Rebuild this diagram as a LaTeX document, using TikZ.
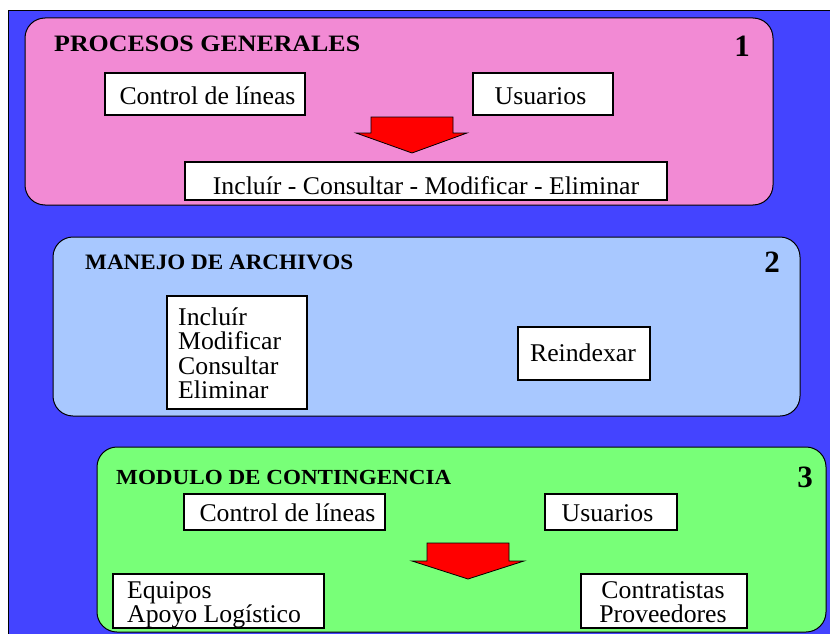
\documentclass[tikz,border=0pt]{standalone}
\usepackage{fontspec}
\usepackage{graphicx}
\setmainfont{Liberation Serif}[FakeStretch=1.01]
\newfontfamily\titlefont{Liberation Serif}
\definecolor{bgblue}{RGB}{68,68,255}
\definecolor{pnk}{RGB}{242,138,212}
\definecolor{lblue}{RGB}{168,200,255}
\definecolor{lgreen}{RGB}{120,255,120}
\newcommand\ttltext[3]{\resizebox{#1}{\height}{\titlefont\bfseries\fontsize{#2}{#2}\selectfont #3}}
\begin{document}
\begin{tikzpicture}[x=1pt,y=-1pt,
  panel/.style={draw=black, line width=1pt, rounded corners=20pt, inner sep=0pt},
  wbox/.style={draw=black, fill=white, line width=1.5pt, inner sep=0pt},
  txt/.style={inner sep=0pt, font=\fontsize{25.5}{22.5}\selectfont},
  ttl/.style={inner sep=0pt, anchor=base west},
  num/.style={inner sep=0pt, anchor=base, font=\titlefont\bfseries\fontsize{31}{31}\selectfont},
  blockarrow/.style={fill=red, draw=black, line width=0.8pt, line join=miter}]
\useasboundingbox (0,0) rectangle (830,634);
\fill[white] (0,0) rectangle (830,634);
\fill[bgblue] (8,11) rectangle (830,634);
\draw[black, line width=1pt] (8,634) -- (8,11) -- (830,11);

% Panel 1
\node[panel, fill=pnk, minimum width=748pt, minimum height=187pt] (p1) at (399,111.5) {};
\node[ttl] (t1) at (54,52) {\ttltext{306pt}{23.5}{PROCESOS GENERALES}};
\node[num] (n1) at (742,57) {1};
\node[wbox, minimum width=200pt, minimum height=42pt] (cl1) at (205,94) {};
\node[txt, anchor=base] (cl1t) at (207.5,104) {Control de líneas};
\node[wbox, minimum width=140pt, minimum height=42pt] (us1) at (543,94) {};
\node[txt, anchor=base] (us1t) at (540.5,104) {Usuarios};
\draw[blockarrow] (371,117) -- (453,117) -- (453,133) -- (467,133) -- (412,153) -- (356,133) -- (371,133) -- cycle;
\node[wbox, minimum width=482pt, minimum height=38pt] (ops) at (426,181) {};
\node[txt, anchor=base] (opst) at (426,194) {Incluír - Consultar - Modificar - Eliminar};

% Panel 2
\node[panel, fill=lblue, minimum width=747pt, minimum height=179pt] (p2) at (426.5,326.5) {};
\node[ttl] (t2) at (85,269) {\ttltext{268pt}{22}{MANEJO DE ARCHIVOS}};
\node[num] (n2) at (772,272) {2};
\node[wbox, minimum width=140pt, minimum height=113pt] (lst) at (237,352.5) {};
\node[txt, anchor=base west] (lstt) at (178,325) {\begin{tabular}[t]{@{}l@{}}Incluír\\Modificar\\Consultar\\Eliminar\end{tabular}};
\node[wbox, minimum width=132pt, minimum height=53pt] (rix) at (584,353.5) {};
\node[txt, anchor=base] (rixt) at (583,361) {Reindexar};

% Panel 3
\node[panel, fill=lgreen, minimum width=729pt, minimum height=185pt] (p3) at (461.5,539.5) {};
\node[ttl] (t3) at (116,484) {\ttltext{335pt}{21.5}{MODULO DE CONTINGENCIA}};
\node[num] (n3) at (805,487) {3};
\node[wbox, minimum width=201pt, minimum height=36pt] (cl3) at (284.5,512) {};
\node[txt, anchor=base] (cl3t) at (287.5,521) {Control de líneas};
\node[wbox, minimum width=132pt, minimum height=36pt] (us3) at (611,512) {};
\node[txt, anchor=base] (us3t) at (607.5,521) {Usuarios};
\draw[blockarrow] (427,543) -- (509,543) -- (509,561) -- (524,561) -- (468,579) -- (412,561) -- (427,561) -- cycle;
\node[wbox, minimum width=211pt, minimum height=54pt] (eq) at (218.5,601) {};
\node[txt, anchor=base west] (eqt) at (127,598) {\begin{tabular}[t]{@{}l@{}}Equipos\\Apoyo Logístico\end{tabular}};
\node[wbox, minimum width=166pt, minimum height=54pt] (ct) at (664,601) {};
\node[txt, anchor=base] (ctt) at (663,598) {\begin{tabular}[t]{@{}c@{}}Contratistas\\Proveedores\end{tabular}};
\end{tikzpicture}
\end{document}
